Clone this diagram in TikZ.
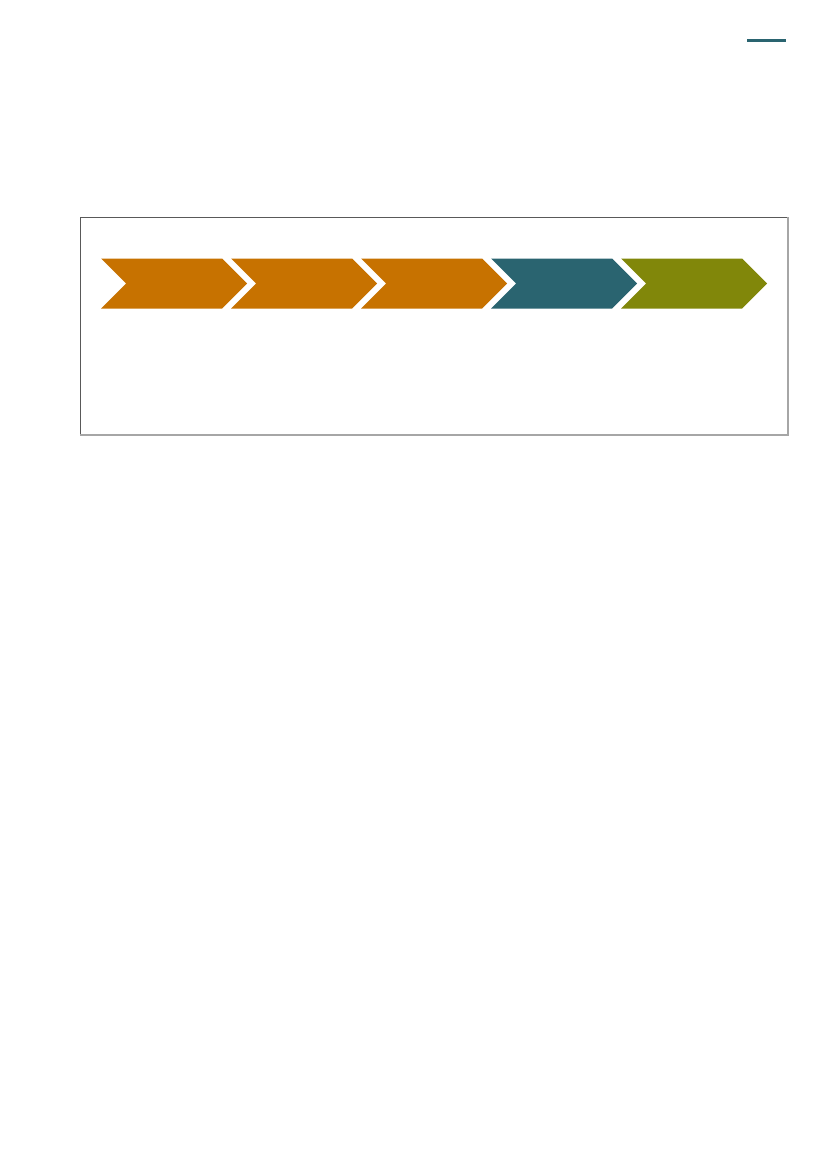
\documentclass[tikz,border=0pt]{standalone}
\usetikzlibrary{shapes.symbols}

\definecolor{chevorange}{HTML}{C77200}
\definecolor{chevteal}{HTML}{2A6470}
\definecolor{chevolive}{HTML}{81870A}

\begin{document}
\begin{tikzpicture}[%
    x=1pt,y=-1pt,
    frame/.style={
      rectangle,
      draw=black!65,
      line width=1pt,
      fill=none,
      minimum width=707pt,
      minimum height=217pt,
      inner sep=0pt
    },
    chev/.style={
      signal,
      signal to=east,
      signal from=west,
      signal pointer angle=90,
      draw=none,
      inner sep=0pt,
      minimum width=146pt,
      minimum height=50pt
    },
    rule/.style={
      draw=chevteal,
      line width=3pt
    }
  ]
    \useasboundingbox (0,0) rectangle (827,1169);

    % small rule at the top
    \coordinate (ruleL) at (747,40.5);
    \coordinate (ruleR) at (786,40.5);
    \draw[rule] (ruleL) -- (ruleR);

    % box round the process
    \draw (433.5,325.5) node[frame] (box) {};
    \draw[black!35,line width=1.5pt] (box.north east) ++(0.5,0.5)
      -- ([shift={(0.5,0.5)}]box.south east) -- ([shift={(0.5,0.5)}]box.south west);

    % five chevrons
    \foreach \i/\c in {1/chevorange,2/chevorange,3/chevorange,4/chevteal,5/chevolive}{
      \draw (44+130*\i,283.5) node[chev,fill=\c] (p\i) {};
    }

  \end{tikzpicture}
\end{document}
